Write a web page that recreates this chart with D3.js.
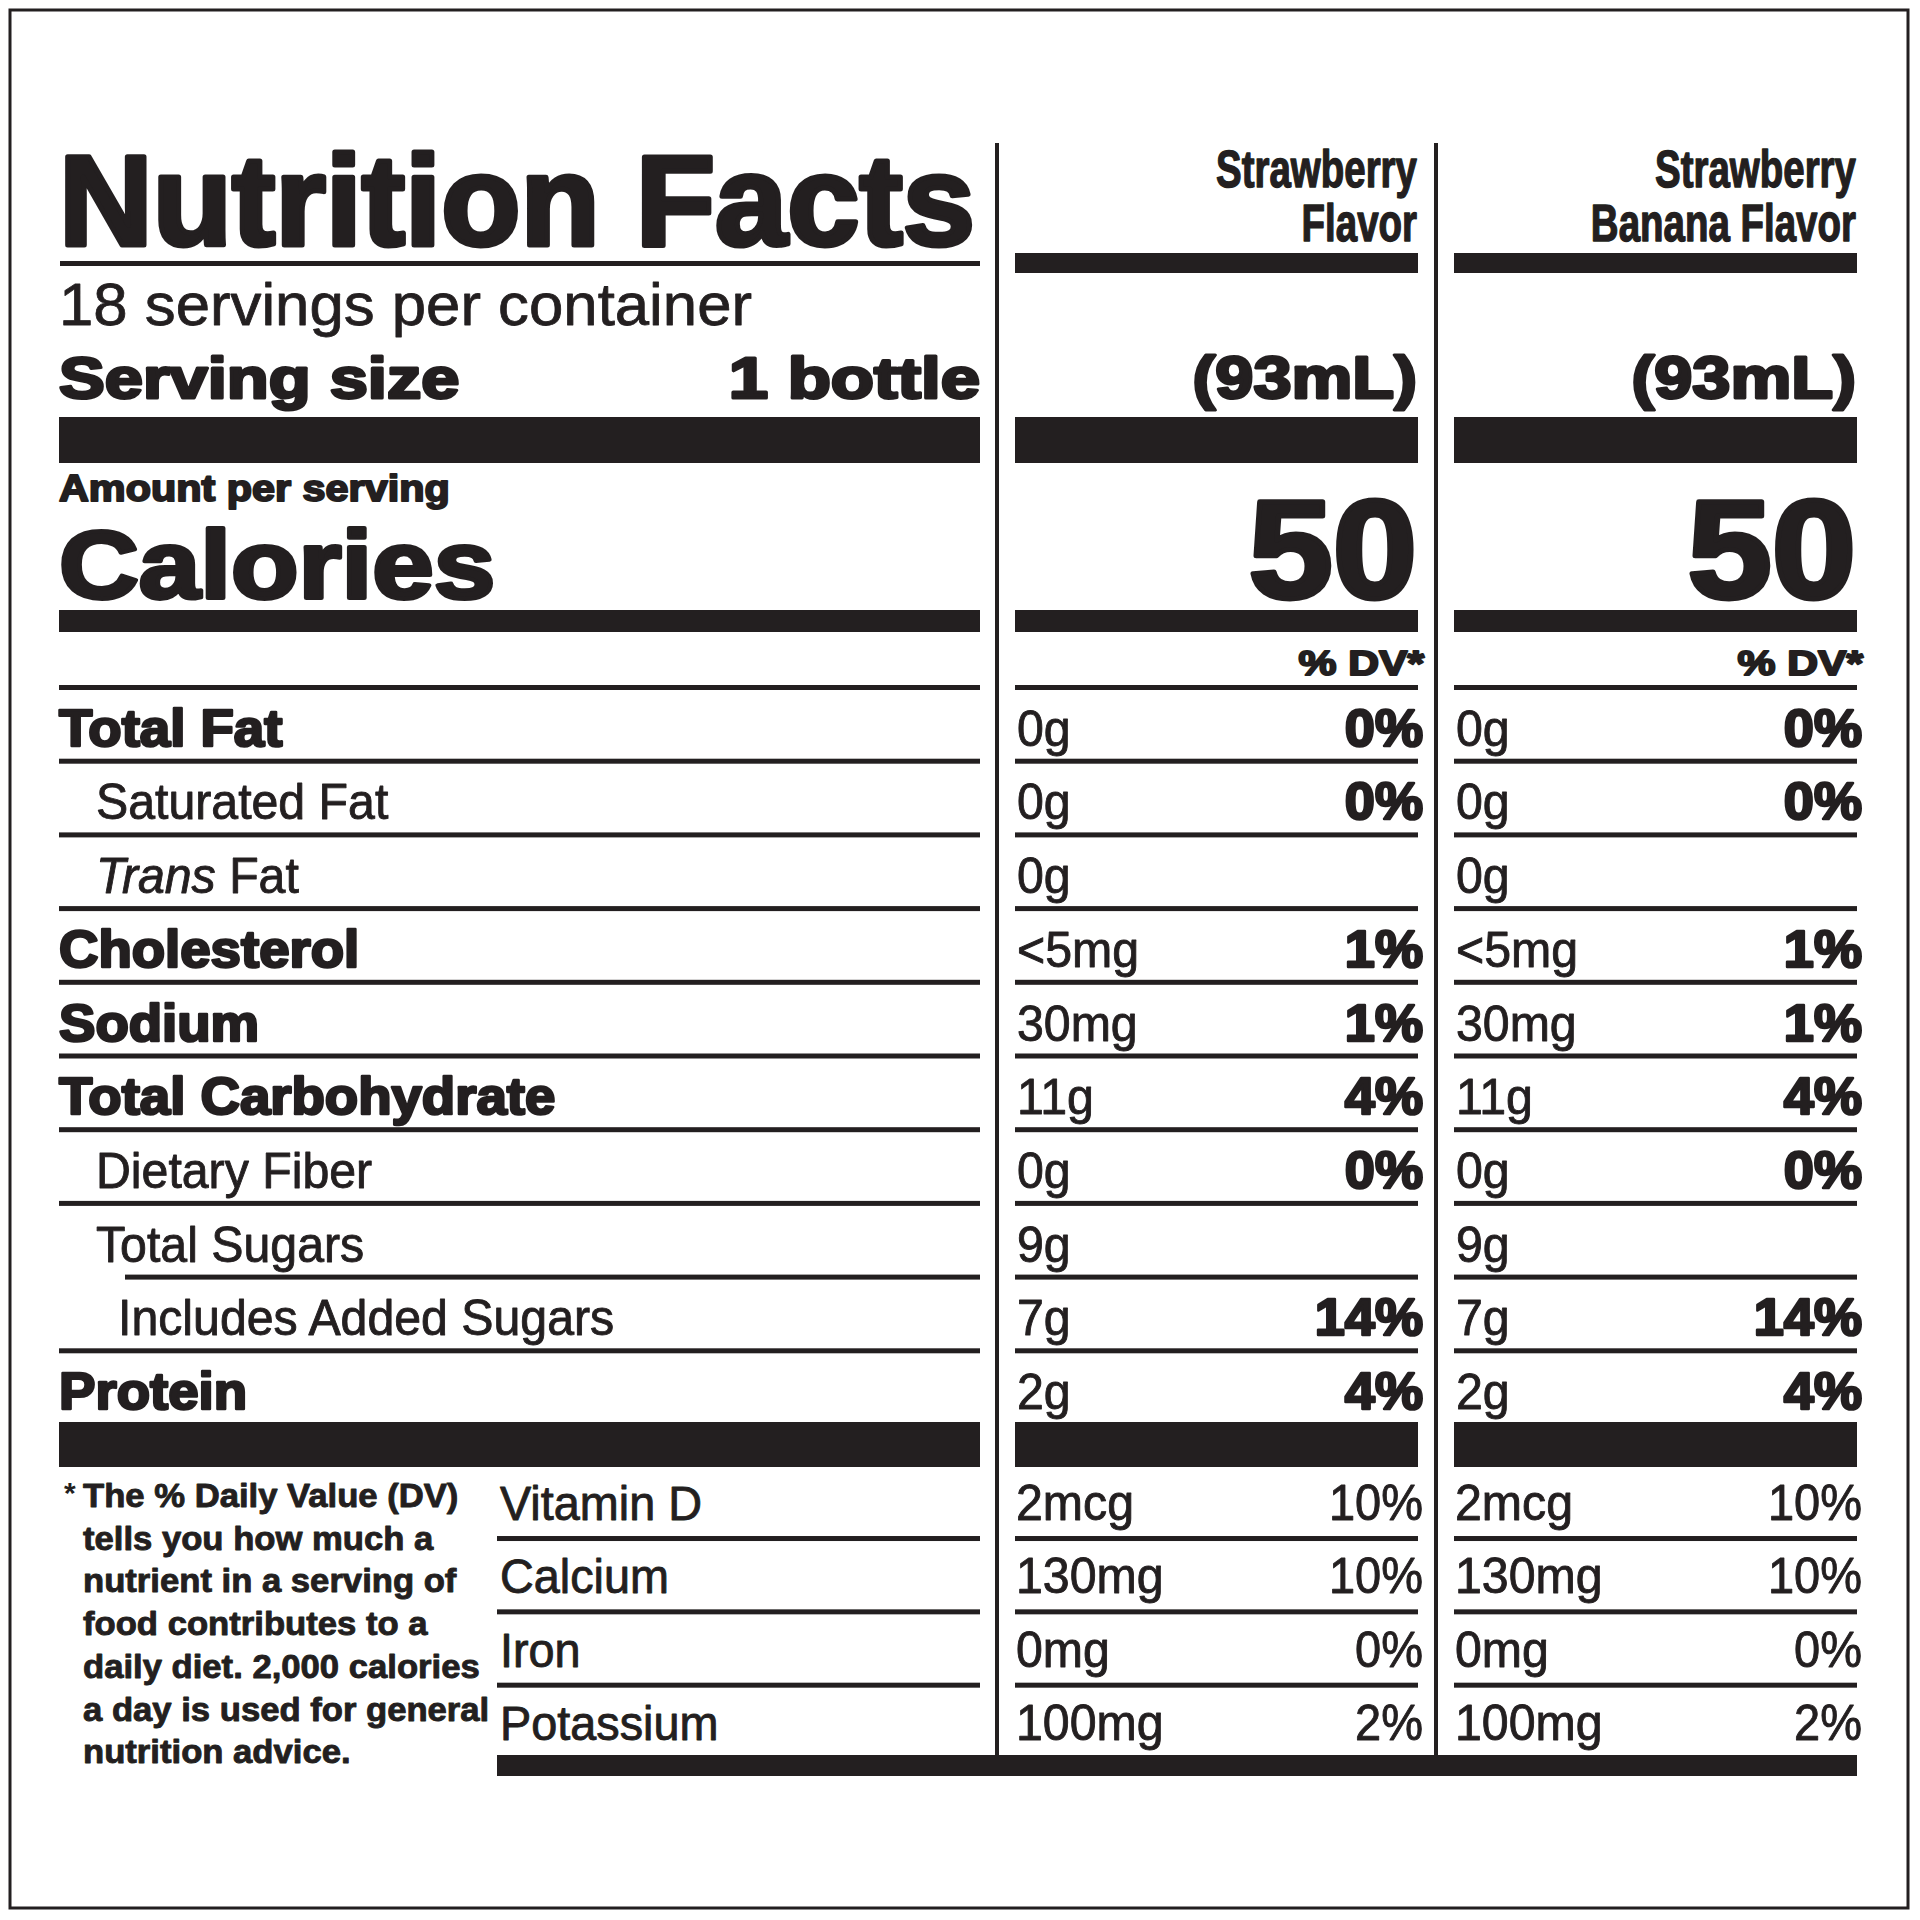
<!DOCTYPE html>
<html>
<head>
<meta charset="utf-8">
<script src="https://cdn.jsdelivr.net/npm/d3@7"></script>
<style>
html, body { margin: 0; padding: 0; background: #ffffff; }
svg { display: block; }
</style>
</head>
<body>
<svg id="chart" width="1920" height="1920"></svg>
<script>
// ---------------- DATA ----------------
const flavorNames = ["Strawberry Flavor", "Strawberry Banana Flavor"];
const flavorHeaderLines = [["Strawberry", "Flavor"], ["Strawberry", "Banana Flavor"]];
const servingsPerContainer = "18 servings per container";
const servingSizeLabel = "Serving size";
const servingSize = "1 bottle";
const servingVolumes = ["(93mL)", "(93mL)"];
const amountPerServing = "Amount per serving";
const caloriesLabel = "Calories";
const calories = [50, 50];
const dvHeader = "% DV*";

const nutrients = ["Total Fat", "Saturated Fat", "Trans Fat", "Cholesterol", "Sodium",
  "Total Carbohydrate", "Dietary Fiber", "Total Sugars", "Includes Added Sugars", "Protein"];
const nutrientLevels = [0, 1, 1, 0, 0, 0, 1, 1, 2, 0];
const amountsStrawberry = ["0g", "0g", "0g", "<5mg", "30mg", "11g", "0g", "9g", "7g", "2g"];
const dvStrawberry = ["0%", "0%", "", "1%", "1%", "4%", "0%", "", "14%", "4%"];
const amountsStrawberryBanana = ["0g", "0g", "0g", "<5mg", "30mg", "11g", "0g", "9g", "7g", "2g"];
const dvStrawberryBanana = ["0%", "0%", "", "1%", "1%", "4%", "0%", "", "14%", "4%"];

const vitamins = ["Vitamin D", "Calcium", "Iron", "Potassium"];
const vitAmountsStrawberry = ["2mcg", "130mg", "0mg", "100mg"];
const vitDvStrawberry = ["10%", "10%", "0%", "2%"];
const vitAmountsStrawberryBanana = ["2mcg", "130mg", "0mg", "100mg"];
const vitDvStrawberryBanana = ["10%", "10%", "0%", "2%"];

const footnoteLines = ["The % Daily Value (DV)", "tells you how much a", "nutrient in a serving of",
  "food contributes to a", "daily diet. 2,000 calories", "a day is used for general", "nutrition advice."];

const columnAmounts = [amountsStrawberry, amountsStrawberryBanana];
const columnDv = [dvStrawberry, dvStrawberryBanana];
const columnVitAmounts = [vitAmountsStrawberry, vitAmountsStrawberryBanana];
const columnVitDv = [vitDvStrawberry, vitDvStrawberryBanana];

// ---------------- LAYOUT ----------------
const INK = "#231f20";
const FONT = "'Liberation Sans', Arial, Helvetica, sans-serif";
const svg = d3.select("#chart");
svg.append("rect").attr("width", 1920).attr("height", 1920).attr("fill", "#fff");

const leftX0 = 59, leftX1 = 980;
const col = d3.scaleBand().domain(flavorNames).range([1015, 1857]).paddingInner(0.082);
const rowY = d3.scaleLinear().domain([0, nutrients.length]).range([685, 1422]);
const vitY = d3.scaleLinear().domain([0, vitamins.length]).range([1462.7, 1756]);

function addText(parent, str, x, y, o) {
  const t = parent.append("text")
    .attr("font-family", FONT)
    .attr("font-size", o.size)
    .attr("font-weight", o.weight || 400)
    .attr("text-anchor", o.anchor || "start")
    .attr("fill", INK);
  if (o.italicFirst) {
    const sp = str.indexOf(" ");
    t.append("tspan").attr("font-style", "italic").text(str.slice(0, sp));
    t.append("tspan").text(str.slice(sp));
  } else {
    t.text(str);
  }
  if (o.stroke) t.attr("stroke", INK).attr("stroke-width", o.stroke).attr("stroke-linejoin", "round");
  let sx = o.sx || 1;
  if (o.width) {
    const w = t.node().getComputedTextLength() + (o.stroke || 0);
    sx = o.width / w;
  }
  t.attr("transform", `translate(${x},${y}) scale(${sx},1)`);
  return t;
}
function bar(x0, x1, y, h) {
  svg.append("rect").attr("x", x0).attr("y", y).attr("width", x1 - x0).attr("height", h).attr("fill", INK);
}

// outer border
svg.append("rect").attr("x", 10).attr("y", 10).attr("width", 1898).attr("height", 1898)
  .attr("fill", "none").attr("stroke", INK).attr("stroke-width", 3);

// vertical separators
[997, 1436].forEach(x => {
  svg.append("rect").attr("x", x - 2).attr("y", 143).attr("width", 4).attr("height", 1755 - 143).attr("fill", INK);
});

// ---------- left header ----------
addText(svg, "Nutrition Facts", leftX0, 245, {size: 128, weight: 700, stroke: 5, width: 921});
bar(leftX0 + 1, leftX1, 261, 5);
addText(svg, servingsPerContainer, leftX0, 325, {size: 60, stroke: 0.8, width: 694});
addText(svg, servingSizeLabel, leftX0, 398, {size: 58, weight: 700, stroke: 3, width: 404});
addText(svg, servingSize, leftX1, 398, {size: 58, weight: 700, stroke: 3, width: 255, anchor: "end"});
bar(leftX0, leftX1, 417, 46);
addText(svg, amountPerServing, leftX0, 501, {size: 37, weight: 700, stroke: 2, width: 393});
addText(svg, caloriesLabel, leftX0, 598, {size: 96, weight: 700, stroke: 4, width: 441});
bar(leftX0, leftX1, 610, 22);

// ---------- column headers ----------
flavorNames.forEach((f, i) => {
  const x0 = col(f), x1 = col(f) + col.bandwidth();
  addText(svg, flavorHeaderLines[i][0], x1 - 1, 187, {size: 52, weight: 700, stroke: 1.4, sx: 0.74, anchor: "end"});
  addText(svg, flavorHeaderLines[i][1], x1 - 1, 241, {size: 52, weight: 700, stroke: 1.4, sx: 0.74, anchor: "end"});
  bar(x0, x1, 253, 20);
  addText(svg, servingVolumes[i], x1 - 1, 398, {size: 60, weight: 700, stroke: 3, width: 228, anchor: "end"});
  bar(x0, x1, 417, 46);
  addText(svg, String(calories[i]), x1 - 1, 598, {size: 140, weight: 700, stroke: 5, width: 174, anchor: "end"});
  bar(x0, x1, 610, 22);
  addText(svg, dvHeader, x1 + 6, 675, {size: 35, weight: 700, stroke: 2, width: 128, anchor: "end"});
});

// ---------- nutrient rows ----------
const indentX = [leftX0, 96, 118];
nutrients.forEach((n, i) => {
  const lineY = rowY(i);
  const lx0 = (nutrientLevels[i] === 2) ? 125 : leftX0;
  bar(lx0, leftX1, lineY, 5);
  flavorNames.forEach(f => bar(col(f), col(f) + col.bandwidth(), lineY, 5));
  const base = rowY(i + 1) - 13;
  const lvl = nutrientLevels[i];
  if (lvl === 0) {
    addText(svg, n, indentX[lvl], base, {size: 52, weight: 700, stroke: 2.6, sx: 1.05});
  } else {
    addText(svg, n, indentX[lvl], base, {size: 50, stroke: 0.9, sx: 0.965, italicFirst: n.startsWith("Trans ")});
  }
  flavorNames.forEach((f, c) => {
    const x0 = col(f), x1 = col(f) + col.bandwidth();
    addText(svg, columnAmounts[c][i], x0 + 2, base, {size: 50, stroke: 0.9, sx: 0.965});
    if (columnDv[c][i]) {
      addText(svg, columnDv[c][i], x1 + 5, base, {size: 52, weight: 700, stroke: 2.6, sx: 1.04, anchor: "end"});
    }
  });
});
bar(leftX0, leftX1, 1422, 45);
flavorNames.forEach(f => bar(col(f), col(f) + col.bandwidth(), 1422, 45));

// ---------- vitamins ----------
const vitLabelX = 500;
vitamins.forEach((v, i) => {
  const base = vitY(i + 1) - 16;
  addText(svg, v, vitLabelX, base, {size: 49, stroke: 0.9, sx: 0.955});
  flavorNames.forEach((f, c) => {
    const x0 = col(f), x1 = col(f) + col.bandwidth();
    addText(svg, columnVitAmounts[c][i], x0 + 1, base, {size: 50, stroke: 0.9, sx: 0.965});
    addText(svg, columnVitDv[c][i], x1 + 5, base, {size: 50, stroke: 0.9, sx: 0.94, anchor: "end"});
  });
  if (i < vitamins.length - 1) {
    const ly = vitY(i + 1);
    bar(497, leftX1, ly, 5);
    flavorNames.forEach(f => bar(col(f), col(f) + col.bandwidth(), ly, 5));
  }
});
bar(497, 1857, 1755, 21);

// ---------- footnote ----------
addText(svg, "*", 64, 1503, {size: 30, weight: 700});
footnoteLines.forEach((line, i) => {
  addText(svg, line, 83, 1507 + i * 42.7, {size: 33, weight: 700, stroke: 0.9, sx: 1.05});
});
</script>
</body>
</html>
